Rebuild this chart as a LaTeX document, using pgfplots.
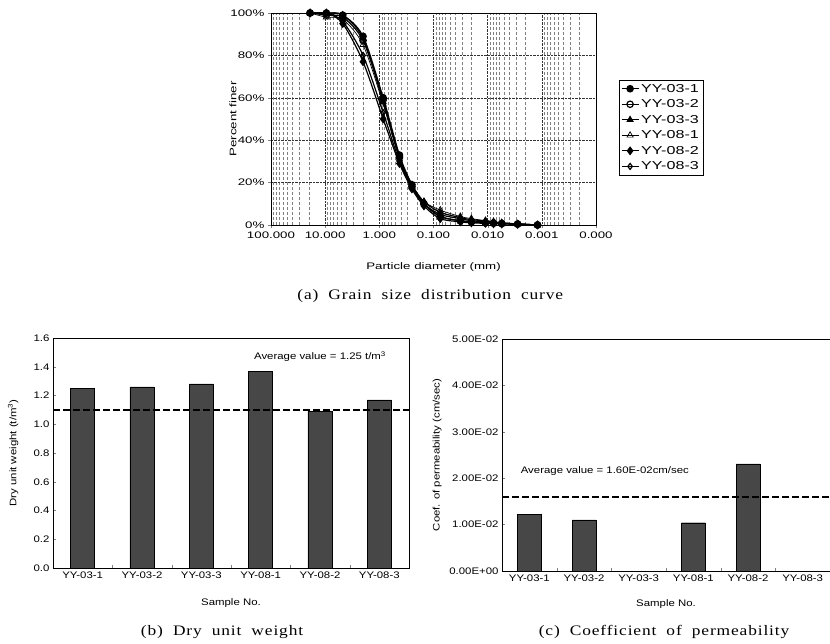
\documentclass[border=0pt]{standalone}
\usepackage{fontspec}
\setmainfont{Liberation Sans}
\newfontfamily\widefont[FakeStretch=1.4]{Liberation Sans}
\newfontfamily\chfont[FakeStretch=1.2]{Liberation Sans}
\newfontfamily\capfont[FakeStretch=1.2, LetterSpace=6]{Liberation Serif}
\usepackage{pgfplots}
\usepackage{pgfplotstable}
\pgfplotsset{compat=1.18}

\newcommand\fa{\widefont\fontsize{9.5}{11}\selectfont}
\newcommand\fleg{\widefont\fontsize{11.5}{13}\selectfont}
\newcommand\fb{\chfont\fontsize{9.5}{11}\selectfont}
\newcommand\fcap{\capfont\fontsize{14.5}{16}\selectfont\spaceskip=10pt}

% grain size distribution, percent finer
\pgfplotstableread{
d      s1   s2   s3   s4   s5   s6
19     100  100  100  100  100  100
9.5    100  99   100  98   100  100
4.75   99   98   99   97   95   96
2.0    89   87   88   85   77   80
0.85   60   59   58   57   50   53
0.425  33   32   32   31   29   30
0.25   19   18   19   18   17   18
0.15   10   10   11   11   9    10
0.075  4    4    6    7    3    5
0.032  2    2    3.5  4    1.5  3
0.020  1.5  1.5  2.5  3    1    2
0.011  1    1    2    2    0.8  1.5
0.0078 1    0.8  1.5  1.5  0.6  1
0.0055 0.8  0.6  1    1    0.5  0.8
0.0028 0.5  0.4  0.5  0.5  0.3  0.5
0.0012 0    0    0    0    0    0
}\grain

\begin{document}
\begin{tikzpicture}
\useasboundingbox (0,0) rectangle (830pt,644pt);

% (a) grain size distribution curve
\begin{axis}[
  at={(271pt,419pt)}, anchor=south west, scale only axis,
  width=325pt, height=212pt,
  xmode=log, x dir=reverse,
  xmin=0.0001, xmax=100, ymin=0, ymax=100,
  xtick={100,10,1,0.1,0.01,0.001,0.0001},
  xticklabels={100.000,10.000,1.000,0.100,0.010,0.001,0.000},
  minor xtick={0.0002,0.0003,0.0004,0.0005,0.0006,0.0007,0.0008,0.0009,
    0.002,0.003,0.004,0.005,0.006,0.007,0.008,0.009,
    0.02,0.03,0.04,0.05,0.06,0.07,0.08,0.09,
    0.2,0.3,0.4,0.5,0.6,0.7,0.8,0.9,
    2,3,4,5,6,7,8,9,20,30,40,50,60,70,80,90},
  ytick={0,20,40,60,80,100},
  yticklabels={0\%,20\%,40\%,60\%,80\%,100\%},
  xmajorgrids, xminorgrids, ymajorgrids,
  minor grid style={black!50, densely dashed, line width=0.45pt},
  major grid style={black!80, densely dotted, line width=0.5pt},
  major tick length=3pt, minor tick length=0pt, tick align=outside,
  xtick pos=left, ytick pos=left,
  axis line style={line width=0.9pt},
  ticklabel style={font=\fa},
  label style={font=\fa},
  xlabel={Particle diameter (mm)},
  ylabel={Percent finer},
  xlabel style={at={(axis description cs:0.5,-0.2)}, anchor=center},
  ylabel style={at={(axis description cs:-0.117,0.5)}, anchor=center},
  legend style={at={(1.07,0.685)}, anchor=north west, draw=black,
    font=\fleg, inner sep=2pt, row sep=2pt},
  legend cell align=left,
  every axis plot/.append style={black, line width=1.2pt, smooth, mark size=3.2pt},
  extra description/.code={
    \node[font=\fcap] at (0.49,-0.335) {(a) Grain size distribution curve};
  },
]
\addplot[mark=*] table[x=d,y=s1] {\grain};
\addlegendentry{YY-03-1}
\addplot[mark=o] table[x=d,y=s2] {\grain};
\addlegendentry{YY-03-2}
\addplot[mark=triangle*] table[x=d,y=s3] {\grain};
\addlegendentry{YY-03-3}
\addplot[mark=triangle, line width=0.7pt, mark size=3.6pt] table[x=d,y=s4] {\grain};
\addlegendentry{YY-08-1}
\addplot[mark=diamond*, mark size=3.6pt] table[x=d,y=s5] {\grain};
\addlegendentry{YY-08-2}
\addplot[mark=diamond, mark size=3pt] table[x=d,y=s6] {\grain};
\addlegendentry{YY-08-3}
\end{axis}

% (b) dry unit weight
\begin{axis}[
  at={(53pt,76pt)}, anchor=south west, scale only axis,
  width=356pt, height=230pt,
  xmin=-0.5, xmax=5.5, ymin=0, ymax=1.6,
  xtick={0,...,5},
  xticklabels={YY-03-1,YY-03-2,YY-03-3,YY-08-1,YY-08-2,YY-08-3},
  minor xtick={0.5,1.5,2.5,3.5,4.5},
  major x tick style={draw=none},
  ytick={0,0.2,0.4,0.6,0.8,1.0,1.2,1.4,1.6},
  yticklabels={0.0,0.2,0.4,0.6,0.8,1.0,1.2,1.4,1.6},
  xtick pos=left, ytick pos=left, tick align=inside,
  major tick length=3pt, minor tick length=3pt,
  axis line style={line width=0.9pt},
  ticklabel style={font=\fb},
  label style={font=\fb},
  xlabel={Sample No.},
  ylabel={Dry unit weight (t/m\textsuperscript{3})},
  xlabel style={at={(axis description cs:0.5,-0.152)}, anchor=center},
  ylabel style={at={(axis description cs:-0.112,0.5)}, anchor=center},
  extra description/.code={
    \node[font=\fcap] at (0.475,-0.278) {(b) Dry unit weight};
  },
]
\addplot[ybar, bar width=24pt, fill=black!72, draw=black] coordinates {
  (0,1.25) (1,1.26) (2,1.28) (3,1.37) (4,1.09) (5,1.17)
};
\addplot[black, line width=1.3pt, dash pattern=on 7pt off 3pt] coordinates {
  (-0.5,1.1) (5.5,1.1)
};
\node[font=\fb] at (axis cs:4.0,1.47) {Average value = 1.25 t/m\textsuperscript{3}};
\end{axis}

% (c) coefficient of permeability
\begin{axis}[
  at={(502pt,73pt)}, anchor=south west, scale only axis,
  width=328pt, height=232pt,
  axis x line=box, axis y line=left,
  xmin=-0.5, xmax=5.5, ymin=0, ymax=0.05,
  xtick={0,...,5},
  xticklabels={YY-03-1,YY-03-2,YY-03-3,YY-08-1,YY-08-2,YY-08-3},
  minor xtick={0.5,1.5,2.5,3.5,4.5},
  major x tick style={draw=none},
  ytick={0,0.01,0.02,0.03,0.04,0.05},
  yticklabels={0.00E+00,1.00E-02,2.00E-02,3.00E-02,4.00E-02,5.00E-02},
  scaled y ticks=false,
  xtick pos=left, ytick pos=left, tick align=inside,
  major tick length=3pt, minor tick length=3pt,
  axis line style={line width=0.9pt, -},
  ticklabel style={font=\fb},
  label style={font=\fb},
  xlabel={Sample No.},
  ylabel={Coef. of permeability (cm/sec)},
  xlabel style={at={(axis description cs:0.5,-0.142)}, anchor=center},
  ylabel style={at={(axis description cs:-0.198,0.5)}, anchor=center},
  extra description/.code={
    \node[font=\fcap] at (0.494,-0.263) {(c) Coefficient of permeability};
  },
]
\addplot[ybar, bar width=24pt, fill=black!72, draw=black] coordinates {
  (0,0.0122) (1,0.0110) (3,0.0104) (4,0.0231)
};
\addplot[black, line width=1.5pt, dash pattern=on 7pt off 3pt] coordinates {
  (-0.5,0.016) (5.5,0.016)
};
\node[font=\fb, anchor=west] at (axis cs:-0.22,0.0216) {Average value = 1.60E-02cm/sec};
\end{axis}
\end{tikzpicture}
\end{document}
